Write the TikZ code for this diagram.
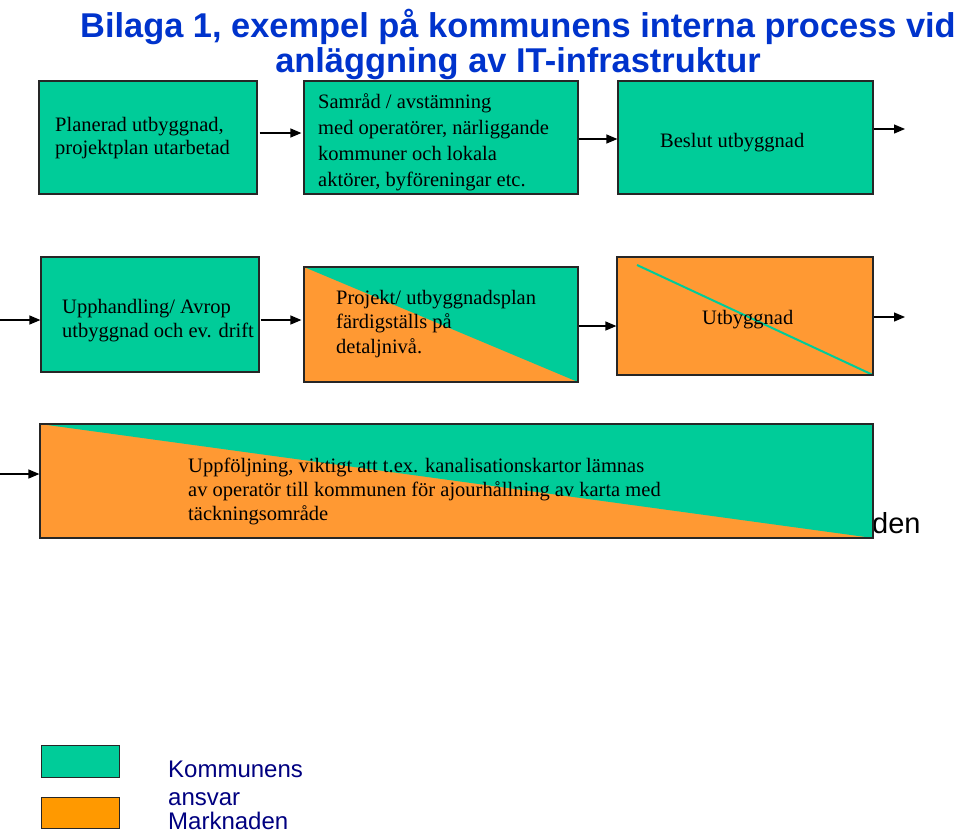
\documentclass[tikz,border=0pt]{standalone}
\usepackage{fontspec}
\setmainfont{Liberation Serif}
\setsansfont{Liberation Sans}
\usetikzlibrary{arrows.meta}
\definecolor{kgreen}{RGB}{0,204,153}
\definecolor{morange}{RGB}{255,153,51}
\definecolor{legorange}{RGB}{255,153,0}
\definecolor{titleblue}{RGB}{0,51,204}
\definecolor{legnavy}{RGB}{0,0,128}
\tikzset{
	box/.style 2 args = {draw = black!85, line width = 1.2pt, minimum width = #1, minimum height = #2, inner sep = 0pt},
	boxtext/.style = {font = \fontsize{20.5}{24}\selectfont, align = left, inner sep = 0pt, anchor = base west},
	arr/.style = {line width = 1.2pt, -{Triangle[length=11pt,width=9pt]}},
	split/.style = {path picture = {\fill [kgreen] (path picture bounding box.north west) -- (path picture bounding box.north east) -- (path picture bounding box.south east) -- cycle;}},
	legtext/.style = {font = \sffamily\fontsize{24}{28}\selectfont, text = legnavy, align = left, inner sep = 0pt, anchor = base west}
}
\begin{document}
\begin{tikzpicture} [x = 1pt, y = -1pt]
	\useasboundingbox (0,0) rectangle (960,831);
	% title (base = last line)
	\node [font = \sffamily\bfseries\fontsize{34.4}{35}\selectfont, text = titleblue, align = center, inner sep = 0pt, anchor = base] (title) at (518,72) {Bilaga 1, exempel på kommunens interna process vid\\anläggning av IT-infrastruktur};
	% first row
	\node [box = {218pt}{113pt}, fill = kgreen] (b1) at (148,137.5) {};
	\node [boxtext, font = \fontsize{20.5}{22.5}\selectfont] (t1) at (55,154) {Planerad utbyggnad,\\projektplan utarbetad};
	\node [box = {274pt}{113pt}, fill = kgreen] (b2) at (441,137.5) {};
	\node [boxtext, font = \fontsize{20.5}{26}\selectfont] (t2) at (318,186) {Samråd / avstämning\\med operatörer, närliggande\\kommuner och lokala\\aktörer, byföreningar etc.};
	\node [box = {255pt}{113pt}, fill = kgreen] (b3) at (745.5,137.5) {};
	\node [boxtext] (t3) at (660,147) {Beslut utbyggnad};
	\coordinate (out1) at (905,129);
	\draw [arr, shorten < = 2pt, shorten > = 2pt] (b1.east |- 0,133) -- (b2.west |- 0,133);
	\draw [arr] (b2.east |- 0,139) -- (b3.west |- 0,139);
	\draw [arr] (b3.east |- out1) -- (out1);
	% second row
	\coordinate (in2) at (0,320);
	\node [box = {218pt}{115pt}, fill = kgreen] (b4) at (150,314.5) {};
	\node [boxtext] (t4) at (62,337) {Upphandling/ Avrop\\utbyggnad och ev. drift};
	\node [box = {274pt}{115pt}, fill = morange, split] (b5) at (441,324.5) {};
	\node [boxtext, font = \fontsize{20.5}{24.5}\selectfont] (t5) at (336,353) {Projekt/ utbyggnadsplan\\färdigställs på\\detaljnivå.};
	\node [box = {256pt}{118pt}, fill = morange, path picture = {\draw [kgreen, line width = 2pt] ([shift = {(20,8)}]path picture bounding box.north west) -- (path picture bounding box.south east);}] (b6) at (745,316) {};
	\node [boxtext] (t6) at (702,324) {Utbyggnad};
	\coordinate (out2) at (905,317);
	\draw [arr] (in2) -- (b4.west |- in2);
	\draw [arr, shorten < = 1pt, shorten > = 2pt] (b4.east |- 0,320) -- (b5.west |- 0,320);
	\draw [arr] (b5.east |- 0,326) -- (b6.west |- 0,326);
	\draw [arr] (b6.east |- out2) -- (out2);
	% third row
	\coordinate (in3) at (0,474);
	\node [font = \sffamily\fontsize{29}{30}\selectfont, inner sep = 0pt, anchor = base west] (hid) at (872,533) {den};
	\node [box = {833pt}{114pt}, fill = morange, split] (b7) at (456.5,481) {};
	\node [boxtext] (t7) at (188,520) {Uppföljning, viktigt att t.ex. kanalisationskartor lämnas\\av operatör till kommunen för ajourhållning av karta med\\täckningsområde};
	\draw [arr] (in3) -- (b7.west |- in3);
	% legend
	\node [box = {78pt}{32pt}, line width = 1pt, fill = kgreen] (legk) at (80,761) {};
	\node [box = {78pt}{31pt}, line width = 1pt, fill = legorange] (legm) at (80,812.5) {};
	\node [legtext] (legkt) at (168,805) {Kommunens\\ansvar};
	\node [legtext] (legmt) at (168,829) {Marknaden};
\end{tikzpicture}
\end{document}
